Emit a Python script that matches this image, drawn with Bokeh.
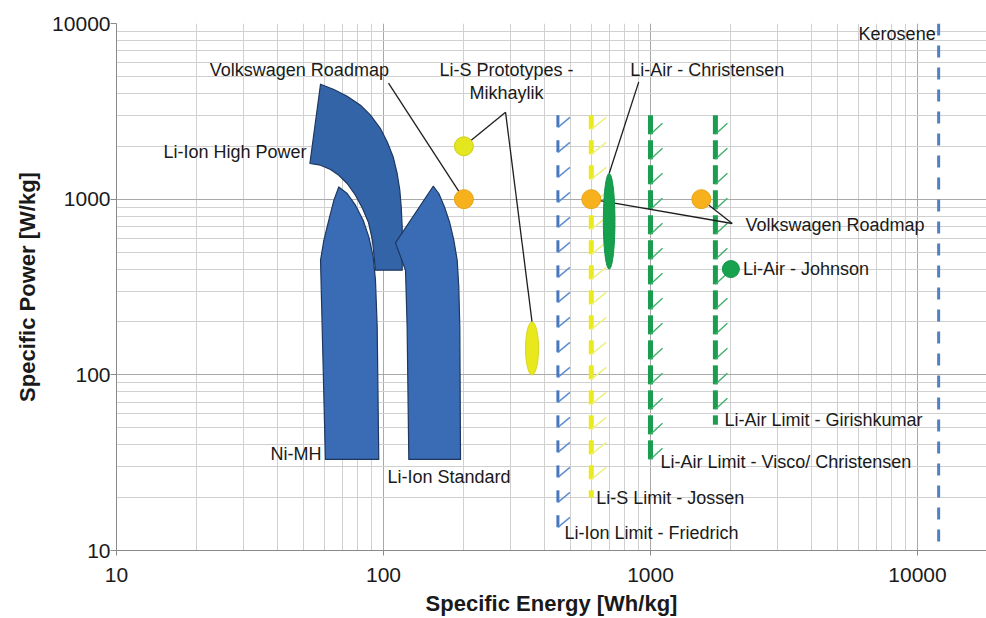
import numpy as np
from bokeh.plotting import figure
from bokeh.models import Range1d, FixedTicker, NumeralTickFormatter
from bokeh.embed import file_html
from bokeh.resources import INLINE
from bokeh.core.properties import value

# ---------------------------------------------------------------- data
energy_major = [10, 100, 1000, 10000]
power_major = [10, 100, 1000, 10000]

# battery technology regions, outlines as (specific energy Wh/kg, specific power W/kg)
hp_energy = [58.1, 65.2, 73.1, 82.0, 89.4, 97.4, 103.3, 108.7, 112.5, 115.1, 116.5, 117.5, 117.5,
             93.3, 90.9, 87.8, 83.4, 78.5, 73.1, 68.0, 63.3, 58.1, 53.0]
hp_power = [4513, 4210, 3857, 3427, 3006, 2525, 2118, 1740, 1400, 1125, 904, 695, 394,
            394, 584, 739, 888, 1053, 1228, 1369, 1475, 1561, 1596]

nimh_energy = [68.0, 73.1, 78.5, 83.9, 88.1, 91.5, 93.3, 94.7, 96.0, 60.6, 58.1, 59.8, 62.4, 65.2]
nimh_power = [1174, 1077, 924, 759, 610, 469, 346, 188, 33, 33, 449, 584, 759, 987]

liion_energy = [153.5, 161.1, 169.2, 176.7, 183.4, 188.8, 191.4, 193.1, 194.3, 124.4, 122.6, 120.9, 110.9]
liion_power = [1185, 1077, 904, 742, 584, 449, 317, 188, 33, 33, 188, 394, 564]

# roadmap and prototype points
vw_energy = [200, 600, 1550]
vw_power = [1000, 1000, 1000]
lis_proto_energy = [200]
lis_proto_power = [2000]
johnson_energy = [2000]
johnson_power = [400]

# results given as a power spread at one energy: (energy, power min, power max)
christensen = (700, 400, 1400)
mikhaylik = (360, 100, 200)

# theoretical limits
limit_names = ["Li-Ion Limit - Friedrich", "Li-S Limit - Jossen",
               "Li-Air Limit - Visco/ Christensen", "Li-Air Limit - Girishkumar",
               "Kerosene"]
limit_energy = [450, 600, 1000, 1750, 12000]
limit_pmin = [12, 20, 33, 52, 10]
limit_pmax = [3000, 3000, 3000, 3000, 10000]

# ---------------------------------------------------------------- layout
W, H = 986, 618
FRAME_L, FRAME_R, FRAME_T, FRAME_B = 116, 0, 23, 68
X_MIN, X_MAX = 10, 18130
Y_MIN, Y_MAX = 10, 10000
XPD = (W - FRAME_L - FRAME_R) / np.log10(X_MAX / X_MIN)   # px per decade
YPD = (H - FRAME_T - FRAME_B) / np.log10(Y_MAX / Y_MIN)

FONT = "Liberation Sans"
INK = "#1a1a1a"

p = figure(width=W, height=H, x_axis_type="log", y_axis_type="log",
           x_range=Range1d(X_MIN, X_MAX), y_range=Range1d(Y_MIN, Y_MAX),
           output_backend="svg", toolbar_location=None,
           min_border_left=FRAME_L, min_border_right=FRAME_R,
           min_border_top=FRAME_T, min_border_bottom=FRAME_B,
           outline_line_color=None, background_fill_color="white",
           border_fill_color="white")


def minor_between(majors, hi):
    out = []
    for m in majors:
        for k in range(2, 10):
            v = m * k
            if v < hi:
                out.append(v)
    return out


xt = FixedTicker(ticks=energy_major, minor_ticks=minor_between(energy_major, X_MAX))
yt = FixedTicker(ticks=power_major, minor_ticks=minor_between(power_major, Y_MAX))
p.xaxis.ticker = xt
p.yaxis.ticker = yt
p.xgrid.ticker = xt
p.ygrid.ticker = yt

for g in (p.xgrid, p.ygrid):
    g.grid_line_color = "#a9a9a9"
    g.grid_line_width = 1
    g.minor_grid_line_color = "#d0d0d0"
    g.minor_grid_line_width = 1

for ax in (p.xaxis, p.yaxis):
    ax.formatter = NumeralTickFormatter(format="0")
    ax.axis_line_color = "#8a8a8a"
    ax.major_tick_line_color = "#8a8a8a"
    ax.major_tick_in = 0
    ax.minor_tick_in = 0
    ax.minor_tick_out = 0
    ax.major_label_text_font = FONT
    ax.major_label_text_font_size = "21px"
    ax.major_label_text_color = INK
    ax.axis_label_text_font = FONT
    ax.axis_label_text_font_size = "22px"
    ax.axis_label_text_font_style = "bold"
    ax.axis_label_text_color = INK

p.xaxis.axis_label = "Specific Energy [Wh/kg]"
p.yaxis.axis_label = "Specific Power [W/kg]"
p.xaxis.major_tick_out = 5
p.xaxis.major_label_standoff = 12
p.xaxis.axis_label_standoff = 6
p.yaxis.major_tick_out = 6
p.yaxis.major_label_standoff = 0
p.yaxis.axis_label_standoff = 9

# ---------------------------------------------------------------- regions
p.patches(xs=[hp_energy, nimh_energy, liion_energy],
          ys=[hp_power, nimh_power, liion_power],
          fill_color=["#3464a8", "#3a6cb5", "#3a6cb5"],
          line_color="#1d3760", line_width=1.2, line_join="round")


# ---------------------------------------------------------------- limit lines
def to_power(p_top, px):
    return p_top * 10 ** (-np.asarray(px, dtype=float) / YPD)


def hatched_limit(e, p_lo, p_hi, dash, period, color, width, diag=None):
    span = np.log10(p_hi / p_lo) * YPD
    tops = np.arange(0, span, period)
    bots = np.minimum(tops + dash, span)
    n = len(tops)
    p.segment(x0=[e] * n, y0=to_power(p_hi, tops), x1=[e] * n, y1=to_power(p_hi, bots),
              line_color=color, line_width=width, line_cap="butt")
    if diag is not None:
        ddx, ddy, dcol, dwidth = diag
        full = (tops + dash) <= span
        b = bots[full]
        m = len(b)
        p.segment(x0=[e] * m, y0=to_power(p_hi, b),
                  x1=[e * 10 ** (ddx / XPD)] * m, y1=to_power(p_hi, b - ddy),
                  line_color=dcol, line_width=dwidth)


limit_styles = [
    dict(dash=12, period=25, color="#4877bd", width=3, diag=(12, 10, "#5d8dcf", 1.4)),
    dict(dash=14, period=25, color="#eaea1e", width=5, diag=(15, 12, "#eef07c", 1.4)),
    dict(dash=19, period=25, color="#1b9d4f", width=5, diag=(12, 11, "#3fb06c", 1.4)),
    dict(dash=19, period=25, color="#1b9d4f", width=5, diag=(12, 11, "#3fb06c", 1.4)),
    dict(dash=12, period=22, color="#4f80c2", width=3, diag=None),
]
for e, lo, hi, st in zip(limit_energy, limit_pmin, limit_pmax, limit_styles):
    hatched_limit(e, lo, hi, **st)

# ---------------------------------------------------------------- leader lines
leader_x0 = [104.4, 286.5, 286.5, 903.6, 2023, 2023]
leader_y0 = [4572, 3126, 3126, 4651, 727, 727]
leader_x1 = [vw_energy[0], lis_proto_energy[0], mikhaylik[0], christensen[0], vw_energy[1], vw_energy[2]]
leader_y1 = [vw_power[0], lis_proto_power[0], mikhaylik[2], christensen[2], vw_power[1], vw_power[2]]
p.segment(x0=leader_x0, y0=leader_y0, x1=leader_x1, y1=leader_y1,
          line_color="#1e1e1e", line_width=1.3)


# ---------------------------------------------------------------- spread ellipses
def log_ellipse(e, p_lo, p_hi, half_w_px):
    t = np.linspace(0, 2 * np.pi, 90)
    cx = np.log10(e)
    cy = 0.5 * (np.log10(p_lo) + np.log10(p_hi))
    ry = 0.5 * (np.log10(p_hi) - np.log10(p_lo))
    rx = half_w_px / XPD
    return 10 ** (cx + rx * np.cos(t)), 10 ** (cy + ry * np.sin(t))


ex, ey = log_ellipse(*christensen, 5.8)
p.patch(ex, ey, fill_color="#15a04d", line_color="#12904a", line_width=1)
mx, my = log_ellipse(*mikhaylik, 6.5)
p.patch(mx, my, fill_color="#e8e81c", line_color="#d6d61a", line_width=1)

# ---------------------------------------------------------------- points
p.scatter(lis_proto_energy, lis_proto_power, size=19, marker="circle",
          fill_color="#e4e620", line_color="#cfcf18", line_width=1)
p.scatter(vw_energy, vw_power, size=19, marker="circle",
          fill_color="#f6b11c", line_color="#e9a414", line_width=1)
p.scatter(johnson_energy, johnson_power, size=17, marker="circle",
          fill_color="#17a24f", line_color="#13924a", line_width=1)

# ---------------------------------------------------------------- labels
TXT = dict(text_font=value(FONT), text_font_size=value("18px"),
           text_color=INK, text_baseline="middle")

# free-standing callouts (center aligned)
p.text(x=[48.4, 288.9, 288.9, 1631], y=[5420, 5420, 4011, 5420],
       text=["Volkswagen Roadmap", "Li-S Prototypes -", "Mikhaylik", "Li-Air - Christensen"],
       text_align="center", **TXT)

# right aligned region labels
p.text(x=[51.5, 58.6], y=[1858, 35.3], text=["Li-Ion High Power", "Ni-MH"],
       text_align="right", **TXT)

# left aligned labels
p.text(x=[103.5, 2269], y=[26.2, 711], text=["Li-Ion Standard", "Volkswagen Roadmap"],
       text_align="left", **TXT)
p.text(x=johnson_energy, y=johnson_power, text=["Li-Air - Johnson"],
       text_align="left", x_offset=12, **TXT)

# limit labels, placed at the lower end of each line
lim_dx = [6.5, 5, 10, 9]
lim_dy = [-4, 0, 2.5, -5]
p.text(x=limit_energy[:4], y=limit_pmin[:4], text=limit_names[:4],
       text_align="left", x_offset=lim_dx, y_offset=lim_dy, **TXT)
p.text(x=[limit_energy[4]], y=[limit_pmax[4]], text=[limit_names[4]],
       text_align="right", x_offset=-3, y_offset=10, **TXT)

open("out.html", "w").write(file_html(p, INLINE))
